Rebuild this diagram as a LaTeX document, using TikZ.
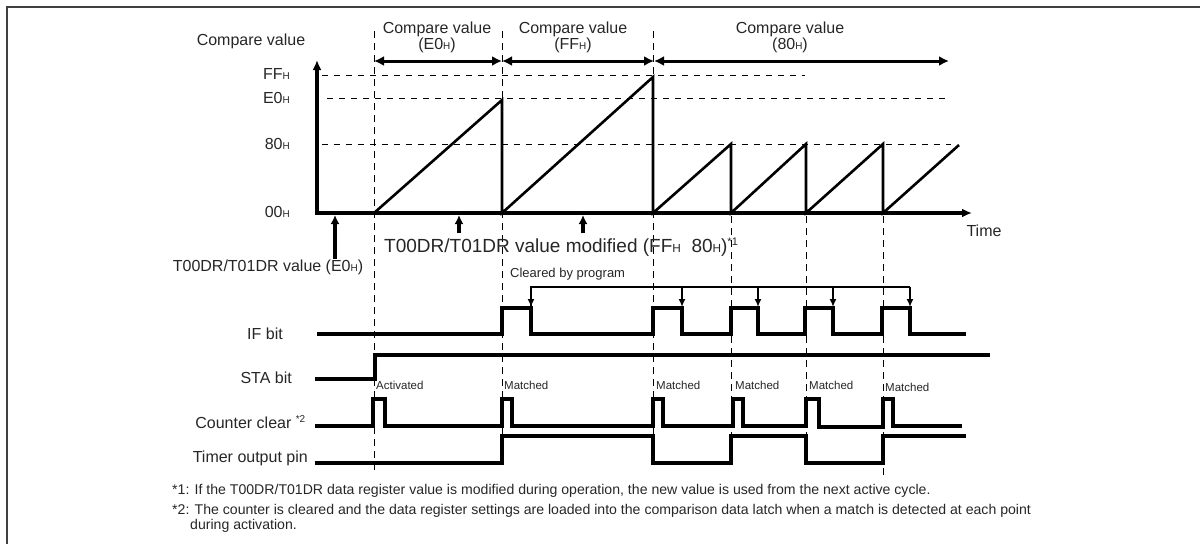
\documentclass[tikz,border=0pt]{standalone}
\usepackage{fontspec}
\usepackage{graphicx}
\setmainfont{Liberation Sans}
\usetikzlibrary{arrows.meta}
\newcommand{\Hs}{\scalebox{0.62}{H}}
\begin{document}
\begin{tikzpicture}[x=1pt,y=-1pt, every node/.style={text=black!85},
  lbl/.style={inner sep=0pt, font=\fontsize{16}{19}\selectfont},
  big/.style={inner sep=0pt, font=\fontsize{19}{22}\selectfont},
  small/.style={inner sep=0pt, anchor=west, font=\fontsize{11.5}{13}\selectfont},
  note/.style={inner sep=0pt, anchor=west, font=\fontsize{14.1}{16}\selectfont},
  sig/.style={line width=3.1pt, line join=miter},
  ramp/.style={line width=2.6pt, line join=miter},
  vdash/.style={line width=1pt, dash pattern=on 7pt off 5pt},
  hdash/.style={line width=1pt, dash pattern=on 6pt off 6pt},
  bigtip/.style={-{Latex[length=9pt,width=9pt]}},
  dbl/.style={line width=3pt, {Latex[length=10pt,width=10pt]}-{Latex[length=10pt,width=10pt]}},
  smalltip/.style={line width=2.2pt, -{Latex[length=8pt,width=7pt]}},
]
\useasboundingbox (0,0) rectangle (1200,544);
% frame
\coordinate (fr1) at (1200,7); \coordinate (fr2) at (7,7); \coordinate (fr3) at (7,544);
\draw[line width=1.5pt, black!75] (fr1) -- (fr2) -- (fr3);

% dashed vertical guides
\foreach \n/\x/\ya/\yb in {a/374/31/470, b/502/31/462, c/653/31/462, d/731/216/462, e/806/216/467, f/883/216/476}{
  \coordinate (v\n1) at (\x,\ya); \coordinate (v\n2) at (\x,\yb);
  \draw[vdash] (v\n1) -- (v\n2);
}
% dashed horizontal levels
\coordinate (hff1) at (322,75);  \coordinate (hff2) at (805,75);
\coordinate (he01) at (327,98);  \coordinate (he02) at (946,98);
\coordinate (h801) at (322,144); \coordinate (h802) at (951,144);
\draw[hdash] (hff1) -- (hff2);
\draw[hdash] (he01) -- (he02);
\draw[hdash] (h801) -- (h802);

% axes
\coordinate (ytop) at (317,60); \coordinate (orig) at (317,213); \coordinate (xend) at (972,213);
\draw[sig, {Latex[length=10pt,width=9pt]}-{Latex[length=10pt,width=9pt]}] (ytop) -- (orig) -- (xend);

% level labels
\node[lbl, anchor=east] (lff) at (290,74) {FF\Hs};
\node[lbl, anchor=east] (le0) at (290,98) {E0\Hs};
\node[lbl, anchor=east] (l80) at (290,144) {80\Hs};
\node[lbl, anchor=east] (l00) at (290,212) {00\Hs};
\node[lbl] (ylab) at (251,41) {Compare value};
\node[lbl] (tlab) at (984,231) {Time};

% compare value headers
\node[lbl, align=center] (cv1) at (437,37) {Compare value\\[-3pt](E0\Hs)};
\node[lbl, align=center] (cv2) at (573,37) {Compare value\\[-3pt](FF\Hs)};
\node[lbl, align=center] (cv3) at (790,37) {Compare value\\[-3pt](80\Hs)};
\coordinate (ar1) at (374,61); \coordinate (ar2) at (502,61);
\coordinate (ar3) at (654,61); \coordinate (ar4) at (949,61);
\draw[dbl] (ar1) -- (ar2);
\draw[dbl] (ar2) -- (ar3);
\draw[dbl] (ar3) -- (ar4);

% sawtooth counter
\draw[ramp] (374,213) -- (502,100) -- (502,213) -- (653,77) -- (653,213)
  -- (731,144) -- (731,213) -- (806,144) -- (806,213) -- (883,144) -- (883,213) -- (959,145);

% register arrows
\coordinate (ra1) at (335,259); \coordinate (ra1t) at (335,215);
\coordinate (ra2) at (459,233); \coordinate (ra2t) at (459,215);
\coordinate (ra3) at (583,233); \coordinate (ra3t) at (583,215);
\draw[line width=3.4pt, bigtip] (ra1) -- (ra1t);
\draw[line width=3.4pt, bigtip] (ra2) -- (ra2t);
\draw[line width=3.4pt, bigtip] (ra3) -- (ra3t);
\node[lbl] (reg0) at (268,267) {T00DR/T01DR value (E0\Hs)};
\node[big, anchor=base west] (reg1) at (384,252) {T00DR/T01DR value modified (FF\Hs\ \ 80\Hs)\textsuperscript{\fontsize{11}{11}\selectfont *1}};

% signal labels
\node[lbl, anchor=east] (sif) at (283,334) {IF bit};
\node[lbl, anchor=east] (ssta) at (292,378) {STA bit};
\node[lbl, anchor=east] (scc) at (306,422) {Counter clear \textsuperscript{\fontsize{10}{10}\selectfont *2}};
\node[lbl, anchor=east] (sto) at (308,458) {Timer output pin};

% IF bit
\draw[sig] (317,334) -- (502,334) -- (502,308) -- (531,308) -- (531,334) -- (653,334) -- (653,308)
  -- (682,308) -- (682,334) -- (731,334) -- (731,308) -- (758,308) -- (758,334) -- (805,334)
  -- (805,308) -- (833,308) -- (833,334) -- (882,334) -- (882,308) -- (910,308) -- (910,334) -- (966,334);
% cleared by program
\node[inner sep=0pt, anchor=west, font=\fontsize{13}{15}\selectfont] (clr) at (510,274) {Cleared by program};
\coordinate (cl0) at (531,306); \coordinate (cl1) at (531,287); \coordinate (cl5) at (910,287);
\draw[line width=2.2pt] (cl0) -- (cl1) -- (cl5);
\foreach \x in {531,682,758,833,910}{
  \coordinate (ct\x) at (\x,287); \coordinate (cb\x) at (\x,307);
  \draw[smalltip] (ct\x) -- (cb\x);
}

% STA bit
\draw[sig] (315,379) -- (375,379) -- (375,355) -- (990,355);
\node[small] (act) at (376,385) {Activated};
\node[small] (m1) at (504,385) {Matched};
\node[small] (m2) at (656,385) {Matched};
\node[small] (m3) at (735,385) {Matched};
\node[small] (m4) at (809,385) {Matched};
\node[small] (m5) at (885,387) {Matched};

% counter clear
\draw[sig] (315,426) -- (373,426) -- (373,399) -- (385,399) -- (385,426) -- (502,426) -- (502,399)
  -- (512,399) -- (512,426) -- (653,426) -- (653,399) -- (663,399) -- (663,426) -- (733,426)
  -- (733,399) -- (743,399) -- (743,426) -- (806,426) -- (806,399) -- (819,399) -- (819,427)
  -- (883,427) -- (883,399) -- (893,399) -- (893,426) -- (962,426);

% timer output pin
\draw[sig] (315,463) -- (502,463) -- (502,436) -- (653,436) -- (653,463) -- (731,463) -- (731,436)
  -- (806,436) -- (806,463) -- (883,463) -- (883,436) -- (966,436);

% footnotes
\node[note] (n1) at (172,491) {*1: If the T00DR/T01DR data register value is modified during operation, the new value is used from the next active cycle.};
\node[note] (n2) at (172,511) {*2: The counter is cleared and the data register settings are loaded into the comparison data latch when a match is detected at each point};
\node[note] (n3) at (190,526) {during activation.};
\end{tikzpicture}
\end{document}
